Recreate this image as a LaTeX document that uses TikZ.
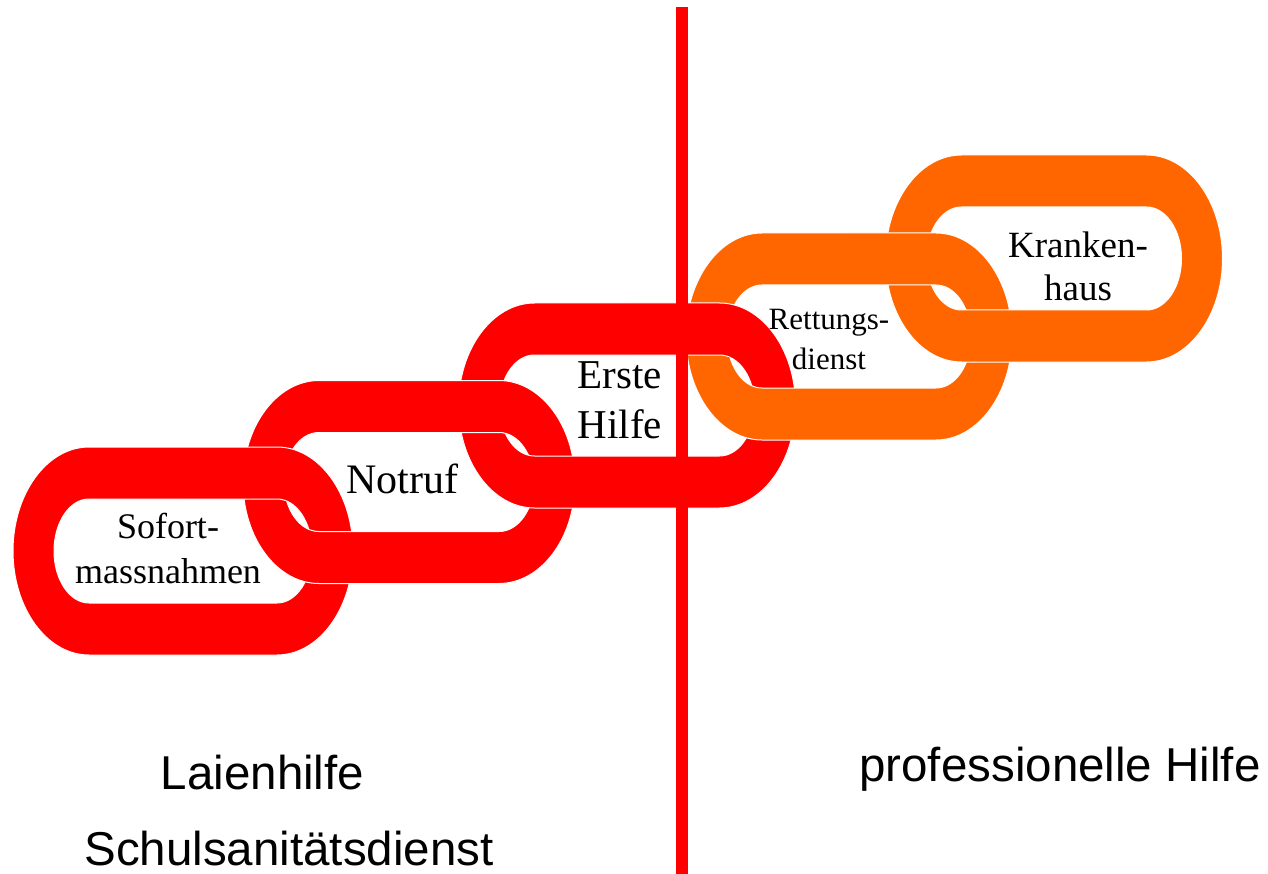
\documentclass[tikz,border=0pt]{standalone}
\usepackage{fontspec}
\setmainfont{Liberation Serif}
\newfontfamily\arialfont{Liberation Sans}
\definecolor{chainred}{RGB}{255,0,0}
\definecolor{chainorange}{RGB}{255,102,0}
% #1 cx, #2 cy, #3 half straight length, #4 outer half height, #5 colour
\newcommand\chainlinkshape[5]{%
  \path[ring,fill=#5]
    (#1-#3,#2-#4) -- (#1+#3,#2-#4)
      arc[start angle=-90,end angle=90,x radius=76,y radius=#4]
      -- (#1-#3,#2+#4)
      arc[start angle=90,end angle=270,x radius=76,y radius=#4] -- cycle
    (#1-#3,#2-#4+52) -- (#1+#3,#2-#4+52)
      arc[start angle=-90,end angle=90,x radius=35,y radius=#4-52]
      -- (#1-#3,#2+#4-52)
      arc[start angle=90,end angle=270,x radius=35,y radius=#4-52] -- cycle;}
% redraw the upper bar of a link over the next one
\newcommand\chaintopbar[5]{%
  \begin{scope}
    \clip (#1,#2-#4-3) rectangle (#1+#3+80,#2-#4+53);
    \chainlinkshape{#1}{#2}{#3}{#4}{#5}
  \end{scope}}
\begin{document}
\begin{tikzpicture}[x=1pt,y=-1pt,
  ring/.style={even odd rule,draw=white,line width=1},
  divider/.style={draw=chainred,line width=12},
  chaintext/.style={inner sep=0pt,align=center,text=black},
  sidetext/.style={inner sep=0pt,anchor=base,font=\arialfont\fontsize{47.5}{57}\selectfont}]
\useasboundingbox[fill=white] (0,0) rectangle (1268,874);
% links
\chainlinkshape{183}{551}{94}{104}{chainred}
\chainlinkshape{409}{482}{90}{101.5}{chainred}
\chainlinkshape{627}{405.5}{92.5}{102.5}{chainred}
\chainlinkshape{849}{336.5}{87}{103.5}{chainorange}
\chainlinkshape{1054}{258.5}{92.5}{103.5}{chainorange}
% interlocking: upper bars on top
\chaintopbar{183}{551}{94}{104}{chainred}
\chaintopbar{409}{482}{90}{101.5}{chainred}
\chaintopbar{627}{405.5}{92.5}{102.5}{chainred}
\chaintopbar{849}{336.5}{87}{103.5}{chainorange}
% labels in links
\node[chaintext,font=\fontsize{36}{45}\selectfont] (sofort) at (168,548) {Sofort-\\massnahmen};
\node[chaintext,anchor=base,font=\fontsize{42}{50}\selectfont] (notruf) at (402,493) {Notruf};
\node[chaintext,font=\fontsize{41}{50}\selectfont] (erste) at (620,400) {Erste\\Hilfe};
\node[chaintext,font=\fontsize{31}{40}\selectfont] (rett) at (829,340) {Rettungs-\\dienst};
\node[chaintext,font=\fontsize{37}{43}\selectfont] (kranken) at (1078,266) {Kranken-\\haus};
% dividing line
\coordinate (divtop) at (682,7);
\coordinate (divbot) at (682,874);
\draw[divider] (divtop) -- (divbot);
% bottom texts
\node[sidetext] (laien) at (262.5,789) {Laienhilfe};
\node[sidetext] (schul) at (289,865) {Schulsanitätsdienst};
\node[sidetext] (prof) at (1060,781) {professionelle Hilfe};
\end{tikzpicture}
\end{document}
